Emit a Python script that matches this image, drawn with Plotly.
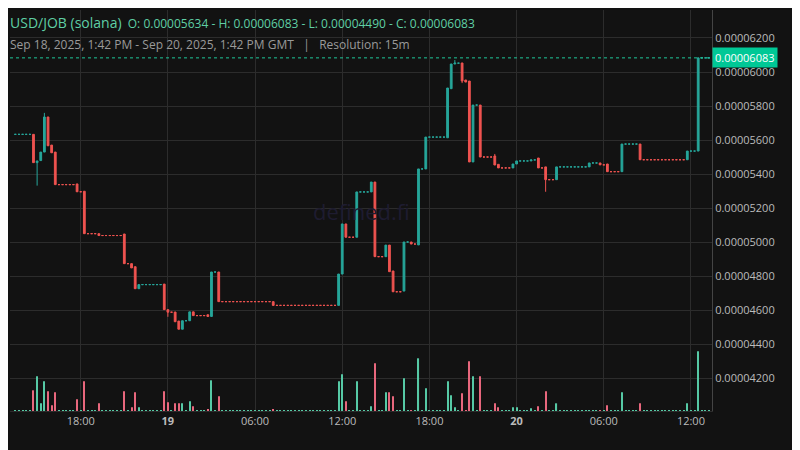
import plotly.graph_objects as go
import pandas as pd

# prices in units of 1e-8
start_price = 5634
n_bins = 192
ev_bin   = [5,6,7,8,9,10,11,17,19,23,30,32,33,34,41,42,44,45,46,48,49,53,54,56,71,
            89,90,91,94,98,99,102,103,104,107,109,111,113,119,120,121,123,124,125,126,128,
            132,133,137,138,142,144,146,149,158,161,163,167,172,185,188]
ev_open  = [5634,5468,5480,5530,5736,5571,5530,5343,5300,5051,5049,4875,4857,4728,4755,4605,4591,4538,4490,4540,4592,4575,4565,4826,4652,
            4630,4814,5108,5030,5296,5354,4916,4984,4832,4714,5002,4985,5431,5614,5902,6047,6053,5953,5947,5472,5806,
            5507,5458,5437,5460,5478,5495,5443,5368,5443,5466,5460,5415,5577,5485,5536]
ev_close = [5468,5478,5530,5736,5567,5526,5339,5297,5051,5040,4875,4850,4728,4752,4605,4590,4534,4490,4540,4592,4570,4565,4826,4652,4630,
            4814,5108,5030,5296,5354,4916,4984,4828,4710,5002,4990,5431,5618,5906,6047,6052,5947,5941,5472,5806,5501,
            5454,5437,5460,5478,5484,5437,5368,5443,5466,5455,5415,5577,5485,5536,6083]
ev_high  = {6:5478, 8:5760, 121:6070, 132:5519}
ev_low   = {6:5333, 42:4563, 123:5935, 146:5297}
ev_vol   = [20.7,34.7,7.7,29.7,19.7,5.7,18.7,11.7,29.7,7.7,19.7,3.7,18.7,3.7,19.7,8.7,7.7,7.7,7.7,9.7,4.7,1.7,30.7,14.7,1.7,
            29.7,36.7,9.7,29.7,4.7,47.7,18.7,18.7,14.7,32.7,0.5,52.7,22.7,29.7,15.7,3.7,17.7,0.5,49.7,34.7,34.7,
            7.7,3.7,3.7,3.7,2.7,4.7,19.7,7.7,0.5,0.5,5.7,18.7,7.7,7.7,59.7]
flat_vol = 0.4

t0 = pd.Timestamp("2025-09-18 13:30")
times = [t0 + pd.Timedelta(minutes=15*i) for i in range(n_bins)]
evmap = {b: i for i, b in enumerate(ev_bin)}
O, H, L, C, V = [], [], [], [], []
last = start_price
for b in range(n_bins):
    if b in evmap:
        i = evmap[b]
        o, c = ev_open[i], ev_close[i]
        h = ev_high.get(b, max(o, c)); l = ev_low.get(b, min(o, c))
        v = ev_vol[i]
    else:
        o = c = h = l = last; v = flat_vol
    O.append(o*1e-8); H.append(h*1e-8); L.append(l*1e-8); C.append(c*1e-8); V.append(v)
    last = c

UP, DN = "#26a69a", "#ef5350"
fig = go.Figure()
fig.add_trace(go.Bar(x=times, y=V, yaxis="y2",
                     marker=dict(color=["#56c9a5" if c >= o else "#e8677d" for o, c in zip(O, C)], line_width=0),
                     width=15*60*1000*0.3, hoverinfo="skip"))
fig.add_trace(go.Candlestick(x=times, open=O, high=H, low=L, close=C,
                             increasing=dict(line=dict(color=UP, width=1), fillcolor=UP),
                             decreasing=dict(line=dict(color=DN, width=1), fillcolor=DN),
                             whiskerwidth=0))
last_close = C[-1]
fig.add_shape(type="line", xref="paper", x0=0, x1=1, y0=last_close, y1=last_close,
              line=dict(color="#1fc79a", width=1, dash="dot"))
fig.add_annotation(xref="paper", x=1, y=last_close, xanchor="left", text="0.00006083",
                   showarrow=False, bgcolor="#00c896", font=dict(color="white", size=11, family="Open Sans"),
                   borderpad=2)

price_ticks = [4200,4400,4600,4800,5000,5200,5400,5600,5800,6000,6200]
x_tickvals = ["2025-09-18 18:00","2025-09-19 00:00","2025-09-19 06:00","2025-09-19 12:00",
              "2025-09-19 18:00","2025-09-20 00:00","2025-09-20 06:00","2025-09-20 12:00"]
x_ticktext = ["18:00","<b>19</b>","06:00","12:00","18:00","<b>20</b>","06:00","12:00"]

fig.update_layout(
    width=792, height=442, paper_bgcolor="#121212", plot_bgcolor="#121212",
    margin=dict(l=2, r=88, t=2, b=39, autoexpand=False), showlegend=False,
    font=dict(family="Open Sans", color="#bbbbbb", size=11),
    xaxis=dict(type="date", range=["2025-09-18 13:08", "2025-09-20 13:27"], automargin=False,
               tickvals=x_tickvals, ticktext=x_ticktext, showgrid=True, gridcolor="#2c2c2c",
               rangeslider=dict(visible=False), zeroline=False, ticks="", linecolor="#2c2c2c"),
    yaxis=dict(side="right", range=[4010e-8, 6364e-8], tickvals=[p*1e-8 for p in price_ticks],
               tickformat=".8f", gridcolor="#2c2c2c", zeroline=False, ticks="", showline=True,
               linecolor="#444444", automargin=False),
    yaxis2=dict(overlaying="y", range=[0, 401], visible=False),
    annotations=list(fig.layout.annotations) + [
        dict(xref="paper", yref="paper", x=0.5, y=0.5, text="defined.fi", showarrow=False,
             font=dict(size=22, color="#1e1c30", family="Open Sans")),
        dict(xref="paper", yref="paper", x=0, xshift=-2, y=1, yshift=-1, yanchor="top", xanchor="left",
             showarrow=False, align="left",
             text="<span style='font-size:14px'>USD/JOB (solana)</span>  O: 0.00005634 - H: 0.00006083 - L: 0.00004490 - C: 0.00006083",
             font=dict(size=12, color="#5fcfa5", family="Open Sans")),
        dict(xref="paper", yref="paper", x=0, xshift=-2, y=1, yshift=-24, yanchor="top", xanchor="left",
             showarrow=False, align="left",
             text="Sep 18, 2025, 1:42 PM - Sep 20, 2025, 1:42 PM GMT   |   Resolution: 15m",
             font=dict(size=12, color="#9a9a9a", family="Open Sans")),
    ],
)
fig.write_html("out.html")
